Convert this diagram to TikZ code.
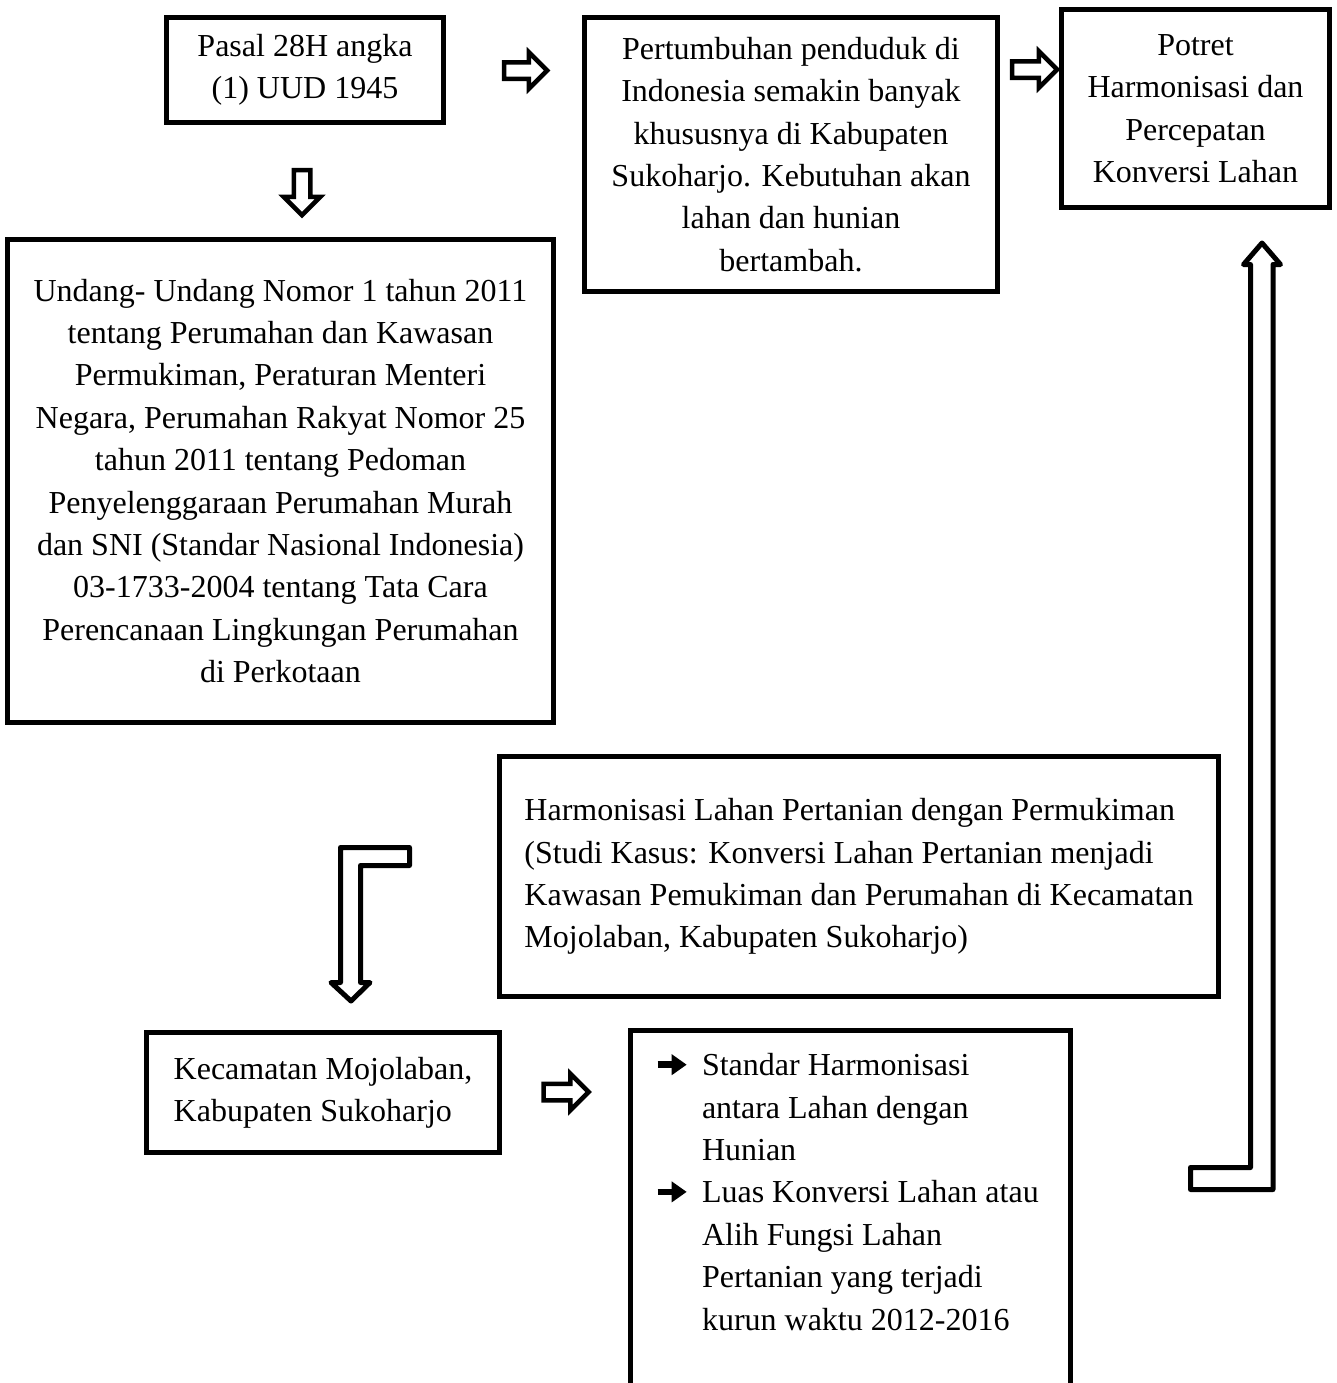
\documentclass[tikz,border=0pt]{standalone}
\usepackage{fontspec}
\setmainfont{Liberation Serif}
\usepackage{tikz}
\usetikzlibrary{positioning, shapes.arrows, arrows.meta}

\begin{document}
\begin{tikzpicture}[
		x=0.5pt, y=-0.5pt,
		box/.style={draw, rectangle, line width=2.5pt, align=center, inner sep=0pt, font=\fontsize{16}{21.2}\selectfont},
		leftbox/.style={box, align=left},
		hollow/.style={single arrow, draw, line width=2.25pt, inner sep=3pt, single arrow head extend=5pt, single arrow tip angle=90, minimum height=22.5pt},
		bent/.style={draw, line width=2.5pt, line join=round, fill=white}
		]
		\useasboundingbox (0,0) rectangle (1337,1383);
		
		% Baris atas
		\node[box, minimum width=138.5pt, minimum height=52.5pt] (pasal) at (305,70) {Pasal 28H angka\\(1) UUD 1945};
		\node[box, minimum width=206.5pt, minimum height=137pt] (penduduk) at (791,154.5) {Pertumbuhan penduduk di\\Indonesia semakin banyak\\khususnya di Kabupaten\\Sukoharjo. Kebutuhan akan\\lahan dan hunian\\bertambah.};
		\node[box, minimum width=134pt, minimum height=99pt] (potret) at (1195.5,108.5) {Potret\\Harmonisasi dan\\Percepatan\\Konversi Lahan};
		
		% Dasar hukum
		\node[box, minimum width=273pt, minimum height=241.5pt] (undang) at (280.5,481) {Undang- Undang Nomor 1 tahun 2011\\tentang Perumahan dan Kawasan\\Permukiman, Peraturan Menteri\\Negara, Perumahan Rakyat Nomor 25\\tahun 2011 tentang Pedoman\\Penyelenggaraan Perumahan Murah\\dan SNI (Standar Nasional Indonesia)\\03-1733-2004 tentang Tata Cara\\Perencanaan Lingkungan Perumahan\\di Perkotaan};
		
		% Judul studi dan lokasi
		\node[leftbox, minimum width=359.5pt, minimum height=120pt] (studi) at (859,876.5) {Harmonisasi Lahan Pertanian dengan Permukiman\\(Studi Kasus: Konversi Lahan Pertanian menjadi\\Kawasan Pemukiman dan Perumahan di Kecamatan\\Mojolaban, Kabupaten Sukoharjo)};
		\node[leftbox, minimum width=176.5pt, minimum height=60pt] (kecamatan) at (323,1092.5) {Kecamatan Mojolaban,\\Kabupaten Sukoharjo};
		\node[draw, line width=2.5pt, anchor=north, inner xsep=12pt, inner ysep=8pt, text depth=190pt, font=\fontsize{16}{21.2}\selectfont] (standar) at (850.5,1027.5) {\begin{tabular}[t]{@{}p{14pt}@{\hspace{9.75pt}}p{172.25pt}@{}}
				\tikz[baseline=-5.5pt]\draw[line width=3.2pt, -{Triangle[length=7.5pt, width=10pt]}] (0pt,0pt) -- (14.5pt,0pt); & Standar Harmonisasi\\
				& antara Lahan dengan\\
				& Hunian\\
				\tikz[baseline=-5.5pt]\draw[line width=3.2pt, -{Triangle[length=7.5pt, width=10pt]}] (0pt,0pt) -- (14.5pt,0pt); & Luas Konversi Lahan atau\\
				& Alih Fungsi Lahan\\
				& Pertanian yang terjadi\\
				& kurun waktu 2012-2016
			\end{tabular}};
		
		% Panah
		\node[hollow, minimum height=21.5pt] (panah1) at (521.5,70.5) {};
		\node[hollow] (panah2) at (1030.5,69.5) {};
		\node[hollow, shape border rotate=270] (panah3) at (302,188.5) {};
		\node[hollow] (panah4) at (562,1092) {};
		\draw[bent] (340.5,847.5) -- (409.5,847.5) -- (409.5,865.5) -- (360.5,865.5) -- (360.5,982.5) -- (370,982.5) -- (351,1001) -- (331,982.5) -- (340.5,982.5) -- cycle;
		\draw[bent] (1262,243) -- (1280.5,264.5) -- (1273,264.5) -- (1273,1189.5) -- (1190.5,1189.5) -- (1190.5,1167.5) -- (1250.5,1167.5) -- (1250.5,264.5) -- (1243.5,264.5) -- cycle;
		
	\end{tikzpicture}
\end{document}
